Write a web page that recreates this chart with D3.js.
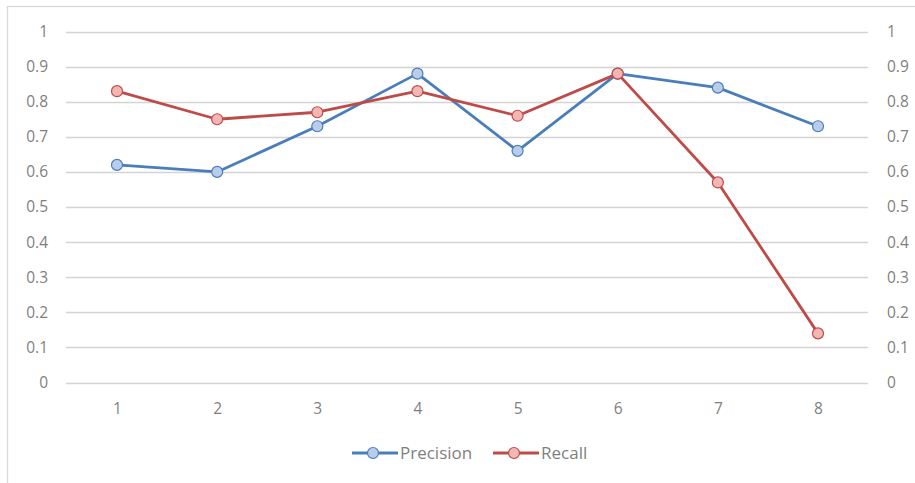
<!DOCTYPE html>
<html>
<head>
<meta charset="utf-8">
<script src="https://cdn.jsdelivr.net/npm/d3@7"></script>
<style>
  html, body { margin: 0; padding: 0; background: #fff; }
  svg { display: block; }
  text { font-family: "Open Sans", "Noto Sans", sans-serif; fill: #7f7f7f; }
</style>
</head>
<body>
<svg id="chart" width="915" height="483"></svg>
<script>
// Category labels along the x axis
const categories = ["1", "2", "3", "4", "5", "6", "7", "8"];
// Series values
const precision = [0.62, 0.60, 0.73, 0.88, 0.66, 0.88, 0.84, 0.73];
const recall = [0.83, 0.75, 0.77, 0.83, 0.76, 0.88, 0.57, 0.14];
// Value-axis ticks (shown on both sides)
const yTicks = [0, 0.1, 0.2, 0.3, 0.4, 0.5, 0.6, 0.7, 0.8, 0.9, 1];
const seriesNames = ["Precision", "Recall"];

const series = [
  { name: seriesNames[0], values: precision, line: "#4a7ebb", fill: "#b9cdea" },
  { name: seriesNames[1], values: recall, line: "#be4b48", fill: "#f2b6b5" }
];

const svg = d3.select("#chart");

// Outer chart frame (runs past the bottom and right edges of the view)
svg.append("rect")
  .attr("x", 7.5).attr("y", 6.5)
  .attr("width", 920).attr("height", 490)
  .attr("fill", "none").attr("stroke", "#d9d9d9").attr("stroke-width", 1.3);

const plot = { left: 66, right: 868, top: 31.5, bottom: 382.5 };

const x = d3.scalePoint()
  .domain(categories)
  .range([117, 818]);

const y = d3.scaleLinear()
  .domain([0, 1])
  .range([plot.bottom, plot.top]);

const fmt = d => d3.format("~g")(d);
const tickFont = "15.5px";

// Horizontal gridlines
svg.append("g")
  .selectAll("line")
  .data(yTicks)
  .join("line")
  .attr("x1", plot.left).attr("x2", plot.right)
  .attr("y1", d => Math.round(y(d)) + 0.5)
  .attr("y2", d => Math.round(y(d)) + 0.5)
  .attr("stroke", "#d4d4d4").attr("stroke-width", 1.5);

// Left value axis
const leftAxis = svg.append("g")
  .attr("transform", `translate(${plot.left - 18},0)`)
  .call(d3.axisLeft(y).tickValues(yTicks).tickFormat(fmt).tickSize(0).tickPadding(0));
leftAxis.select(".domain").remove();
leftAxis.selectAll("text").style("font-size", tickFont).attr("fill", "#7f7f7f");

// Right value axis
const rightAxis = svg.append("g")
  .attr("transform", `translate(${plot.right + 19},0)`)
  .call(d3.axisRight(y).tickValues(yTicks).tickFormat(fmt).tickSize(0).tickPadding(0));
rightAxis.select(".domain").remove();
rightAxis.selectAll("text").style("font-size", tickFont).attr("fill", "#7f7f7f");

// Category axis
const bottomAxis = svg.append("g")
  .attr("transform", `translate(0,${plot.bottom + 20})`)
  .call(d3.axisBottom(x).tickSize(0).tickPadding(0));
bottomAxis.select(".domain").remove();
bottomAxis.selectAll("text").style("font-size", tickFont).attr("fill", "#7f7f7f");

svg.selectAll(".tick text").style("font-family", "'Open Sans', 'Noto Sans', sans-serif");

// Lines and markers
const line = d3.line()
  .x((d, i) => x(categories[i]))
  .y(d => y(d));

series.forEach(s => {
  const g = svg.append("g");
  g.append("path")
    .datum(s.values)
    .attr("d", line)
    .attr("fill", "none")
    .attr("stroke", s.line)
    .attr("stroke-width", 2.8)
    .attr("stroke-linejoin", "round");
  g.selectAll("circle")
    .data(s.values)
    .join("circle")
    .attr("cx", (d, i) => x(categories[i]))
    .attr("cy", d => y(d))
    .attr("r", 5.5)
    .attr("fill", s.fill)
    .attr("stroke", s.line)
    .attr("stroke-width", 1.2);
});

// Legend
const legendItems = [
  { s: series[0], x0: 352 },
  { s: series[1], x0: 493 }
];
const ly = 453;
legendItems.forEach(({ s, x0 }) => {
  const g = svg.append("g");
  g.append("line")
    .attr("x1", x0).attr("x2", x0 + 46)
    .attr("y1", ly).attr("y2", ly)
    .attr("stroke", s.line).attr("stroke-width", 2.8);
  g.append("circle")
    .attr("cx", x0 + 21).attr("cy", ly).attr("r", 5.5)
    .attr("fill", s.fill).attr("stroke", s.line).attr("stroke-width", 1.2);
  g.append("text")
    .attr("x", x0 + 48).attr("y", ly)
    .attr("dy", "0.35em")
    .style("font-size", "17px")
    .text(s.name);
});
</script>
</body>
</html>
